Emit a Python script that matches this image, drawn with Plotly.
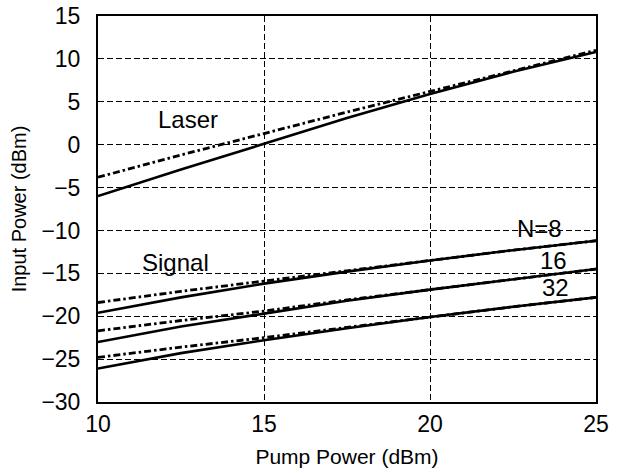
import plotly.graph_objects as go

pump = [10, 12.5, 15, 17.5, 20, 22.5, 25]

laser_solid = [-6.0, -2.9, 0.1, 3.1, 5.9, 8.5, 10.8]
laser_dash = [-3.8, -1.2, 1.3, 3.8, 6.2, 8.6, 11.0]

n8_solid = [-19.6, -17.8, -16.2, -14.8, -13.5, -12.3, -11.2]
n8_dash = [-18.4, -17.1, -15.9, -14.7, -13.5, -12.3, -11.2]
n16_solid = [-23.0, -21.2, -19.7, -18.2, -16.9, -15.7, -14.5]
n16_dash = [-21.7, -20.5, -19.4, -18.1, -16.9, -15.7, -14.5]
n32_solid = [-26.1, -24.3, -22.8, -21.4, -20.1, -18.9, -17.8]
n32_dash = [-24.8, -23.6, -22.5, -21.3, -20.1, -18.9, -17.8]

x_ticks = [10, 15, 20, 25]
y_ticks = [15, 10, 5, 0, -5, -10, -15, -20, -25, -30]

labels = ["Laser", "Signal", "N=8", "16", "32"]
label_x = [12.71, 12.32, 23.31, 23.72, 23.77]
label_y = [2.9, -13.7, -9.8, -13.5, -16.6]

FONT = "Liberation Sans, Arial, Helvetica, sans-serif"

fig = go.Figure()
solid = [laser_solid, n8_solid, n16_solid, n32_solid]
dashed = [laser_dash, n8_dash, n16_dash, n32_dash]
for ys in dashed:
    fig.add_trace(go.Scatter(x=pump, y=ys, mode="lines",
                             line=dict(color="black", width=2.8, dash="7px,3px,2.5px,3px"),
                             showlegend=False, hoverinfo="skip"))
for ys in solid:
    fig.add_trace(go.Scatter(x=pump, y=ys, mode="lines",
                             line=dict(color="black", width=2.6),
                             showlegend=False, hoverinfo="skip"))

for t, xx, yy in zip(labels, label_x, label_y):
    fig.add_annotation(x=xx, y=yy, text=t, showarrow=False,
                       font=dict(family=FONT, size=24, color="black"))

fig.update_layout(
    width=625, height=473,
    margin=dict(l=98, r=29, t=16, b=71),
    paper_bgcolor="white", plot_bgcolor="white",
    font=dict(family=FONT, color="black"),
)
fig.update_xaxes(
    range=[10, 25], tickvals=x_ticks, ticktext=[str(v) for v in x_ticks],
    tickfont=dict(family=FONT, size=23, color="black"),
    showgrid=True, gridcolor="black", gridwidth=1, griddash="6px,3px",
    showline=True, linecolor="black", linewidth=2, mirror=True,
    zeroline=False, ticks="", ticklabelstandoff=0, automargin=False,
    title=dict(text="Pump Power (dBm)", font=dict(family=FONT, size=21, color="black"), standoff=14),
)
fig.update_yaxes(
    range=[-30, 15], tickvals=y_ticks,
    tickfont=dict(family=FONT, size=23, color="black"),
    showgrid=True, gridcolor="black", gridwidth=1, griddash="6px,3px",
    showline=True, linecolor="black", linewidth=2, mirror=True,
    zeroline=False, ticks="", ticklabelstandoff=11, automargin=False,
    title=dict(text="Input Power (dBm)", font=dict(family=FONT, size=20, color="black"), standoff=9),
)

fig.write_html("out.html")
